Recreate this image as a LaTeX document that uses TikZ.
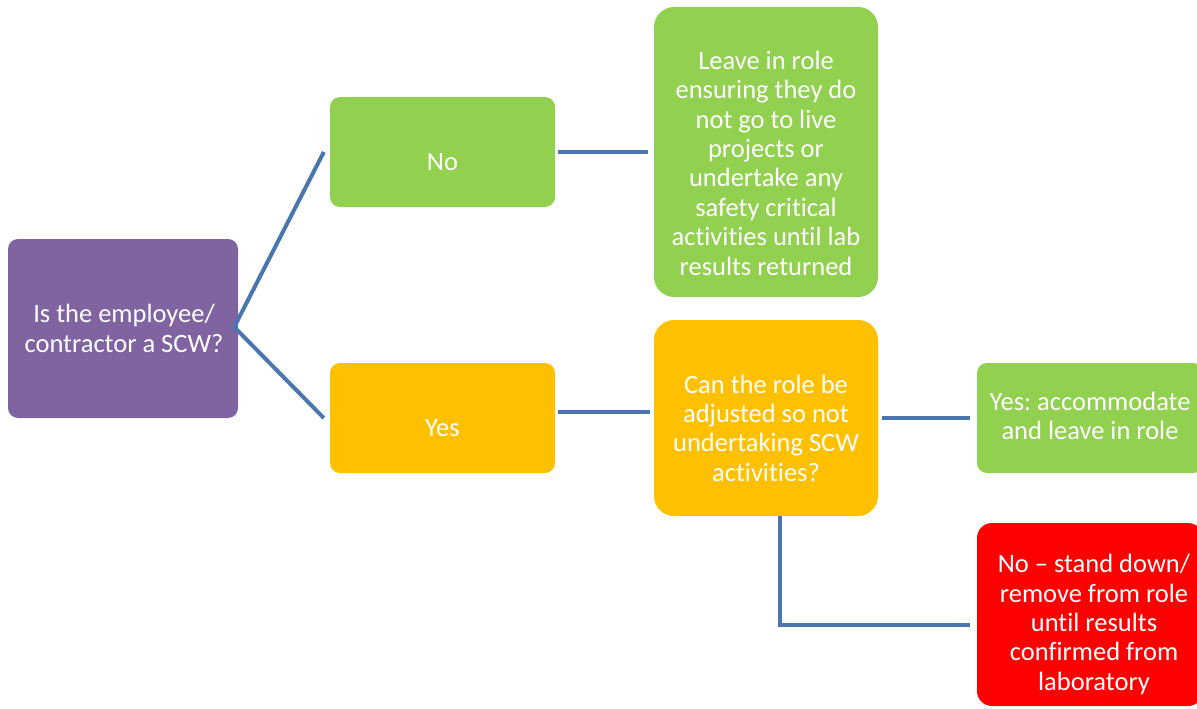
\documentclass[tikz,border=0pt]{standalone}
\usepackage{fontspec}
\setmainfont{Carlito}[RawFeature={-liga}]
\frenchspacing
\usetikzlibrary{calc}
\definecolor{qpurple}{HTML}{8064A2}
\definecolor{ogreen}{HTML}{92D050}
\definecolor{oorange}{HTML}{FFC000}
\definecolor{ored}{HTML}{FF0000}
\definecolor{lblue}{HTML}{4A76B0}
\tikzset{
  box/.style={draw=none, rounded corners=#1, inner sep=0pt},
  box/.default=10pt,
  txt/.style={text=white, align=center, font=\fontsize{26.5}{29.4}\selectfont, inner sep=0pt},
  conn/.style={draw=lblue, line width=4pt}
}
\begin{document}
\frenchspacing
\begin{tikzpicture}[x=1pt,y=-1pt]
\useasboundingbox (0,0) rectangle (1197,709);
% boxes
\node[box, fill=qpurple, minimum width=230pt, minimum height=179pt] (q) at (123,328.5) {};
\node[box, fill=ogreen, minimum width=225pt, minimum height=110pt] (no) at (442.5,152) {};
\node[box, fill=oorange, minimum width=225pt, minimum height=110pt] (yes) at (442.5,418) {};
\node[box=20pt, fill=ogreen, minimum width=224pt, minimum height=290pt] (leave) at (766,152) {};
\node[box=20pt, fill=oorange, minimum width=224pt, minimum height=196pt] (can) at (766,418) {};
\node[box, fill=ogreen, minimum width=226pt, minimum height=110pt] (acc) at (1090,418) {};
\node[box=15pt, fill=ored, minimum width=226pt, minimum height=183pt] (rem) at (1090,614.5) {};
% texts
\node[txt] (qt) at ($(q.center)+(1,0)$) {Is the employee/\\contractor a SCW?};
\node[txt] (not) at ($(no.center)+(0,10)$) {No};
\node[txt] (yest) at ($(yes.center)+(0,10)$) {Yes};
\node[txt] (leavet) at ($(leave.center)+(0,11)$) {Leave in role\\ensuring they do\\not go to live\\projects or\\undertake any\\safety critical\\activities until lab\\results returned};
\node[txt] (cant) at ($(can.center)+(0,10)$) {Can the role be\\adjusted so not\\undertaking SCW\\activities?};
\node[txt] (acct) at ($(acc.center)+(0,-2)$) {Yes: accommodate\\and leave in role};
\node[txt] (remt) at ($(rem.center)+(4,10)$) {No -- stand down/\\remove from role\\until results\\confirmed from\\laboratory};
% connectors
\coordinate (apex) at ($(q.east)+(-4,-1.5)$);
\draw[conn] ($(no.west)+(-6,0)$) -- (apex) -- ($(yes.west)+(-6,0)$);
\draw[conn] ($(no.east)+(3,0)$) -- ($(leave.west)+(-6,0)$);
\draw[conn] ($(yes.east)+(3,-6)$) -- ($(can.west)+(-4,-6)$);
\draw[conn] ($(can.east)+(4,0)$) -- ($(acc.west)+(-7,0)$);
\draw[conn] ($(can.south)+(14,0)$) |- ($(rem.west)+(-7,10.5)$);
\end{tikzpicture}
\end{document}
